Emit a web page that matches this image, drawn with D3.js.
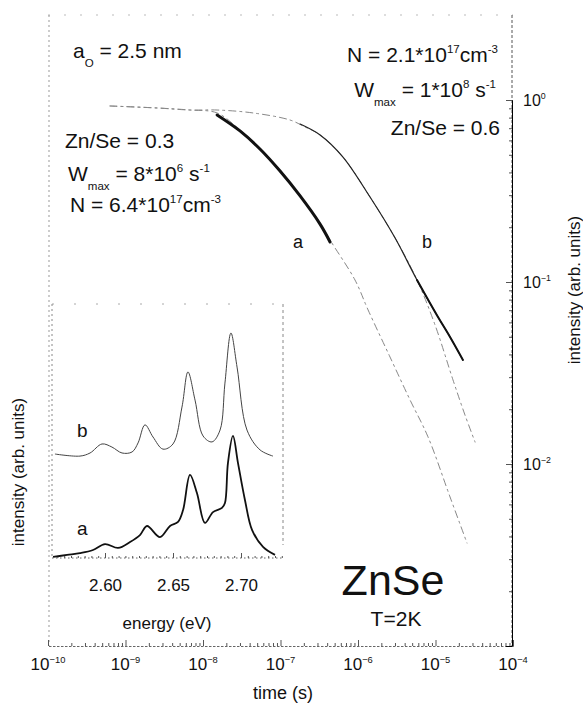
<!DOCTYPE html>
<html>
<head>
<meta charset="utf-8">
<script src="https://cdn.jsdelivr.net/npm/d3@7"></script>
<style>
  body { margin: 0; background: #fff; }
  svg { display: block; font-family: "Liberation Sans", Arial, sans-serif; }
</style>
</head>
<body>
<svg id="chart" width="583" height="711"></svg>
<script>
// ── Decay curves (time in s, normalised intensity) ─────────────────────────
const fitA_t  = [6.31e-10, 2.55e-9, 6.79e-9, 1.52e-8, 3.0e-8, 5.43e-8, 9.87e-8, 1.79e-7, 3.24e-7, 4.36e-7, 9.14e-7, 1.35e-6, 2.59e-6, 4.69e-6, 8.0e-6, 1.54e-5, 2.55e-5];
const fitA_I  = [0.927, 0.904, 0.881, 0.849, 0.684, 0.545, 0.412, 0.301, 0.211, 0.170, 0.1026, 0.0702, 0.0387, 0.0225, 0.0141, 0.00659, 0.00368];
const dataA_t = [1.52e-8, 3.0e-8, 5.43e-8, 9.87e-8, 1.79e-7, 3.24e-7, 4.36e-7];
const dataA_I = [0.827, 0.676, 0.538, 0.407, 0.297, 0.208, 0.166];

const fitB_t  = [6.31e-10, 2.55e-9, 6.79e-9, 1.52e-8, 4.42e-8, 1.33e-7, 2.07e-7, 3.24e-7, 6.4e-7, 1.43e-6, 3.0e-6, 5.77e-6, 9.86e-6, 1.68e-5, 2.40e-5, 3.24e-5];
const fitB_I  = [0.927, 0.904, 0.881, 0.881, 0.849, 0.776, 0.711, 0.643, 0.486, 0.293, 0.175, 0.1026, 0.0581, 0.0290, 0.0186, 0.0132];
const dataB_t = [1.79e-7, 3.24e-7, 6.4e-7, 1.43e-6, 3.0e-6, 5.77e-6, 1.04e-5, 1.54e-5, 2.26e-5];
const dataB_I = [0.738, 0.643, 0.486, 0.293, 0.175, 0.1026, 0.0659, 0.0499, 0.0373];

const timeExps      = [-10, -9, -8, -7, -6, -5, -4];
const intensityExps = [0, -1, -2];

// ── Inset spectra (energy in eV, arb. intensity) ───────────────────────────
const specB_E = [2.5632, 2.5816, 2.5890, 2.5978, 2.6051, 2.6125, 2.6199, 2.6243, 2.6294, 2.6353, 2.6426, 2.6500, 2.6566, 2.6610, 2.6662, 2.6721, 2.6787, 2.6846, 2.6882, 2.6926, 2.6971, 2.7044, 2.7140, 2.7235];
const specB_I = [0.403, 0.395, 0.407, 0.442, 0.430, 0.407, 0.411, 0.446, 0.516, 0.469, 0.422, 0.442, 0.585, 0.721, 0.612, 0.473, 0.450, 0.496, 0.678, 0.872, 0.740, 0.496, 0.419, 0.395];
const specA_E = [2.5618, 2.5721, 2.5816, 2.5912, 2.6000, 2.6096, 2.6184, 2.6257, 2.6309, 2.6404, 2.6478, 2.6537, 2.6574, 2.6625, 2.6676, 2.6735, 2.6794, 2.6860, 2.6882, 2.6904, 2.6941, 2.6978, 2.7029, 2.7081, 2.7162, 2.7250];
const specA_I = [0.004, 0.012, 0.019, 0.031, 0.054, 0.039, 0.062, 0.089, 0.124, 0.081, 0.124, 0.140, 0.186, 0.322, 0.252, 0.136, 0.178, 0.194, 0.213, 0.368, 0.473, 0.368, 0.225, 0.109, 0.043, 0.012];
const energyTicks = [2.60, 2.65, 2.70];

const svg = d3.select('#chart');
const INK = '#111';

// ── Scales ──────────────────────────────────────────────────────────────────
const x  = d3.scaleLog().domain([1e-10, 1e-4]).range([48, 513]);
const y  = d3.scaleLog().domain([1e-3, 1]).range([646, 100]);
const xE = d3.scaleLinear().domain([2.60, 2.70]).range([105, 241]);
const yE = d3.scaleLinear().domain([0, 1]).range([558, 300]);

// rich text with super/subscripts: parts = [[text, 'n'|'sup'|'sub'], ...]
function richText(g, px, py, parts, fs, anchor) {
  const t = g.append('text').attr('x', px).attr('y', py)
    .attr('font-size', fs).attr('fill', INK).attr('text-anchor', anchor || 'start');
  let shift = 0;
  parts.forEach(([s, k]) => {
    const target = k === 'sup' ? -fs * 0.42 : k === 'sub' ? fs * 0.45 : 0;
    const sp = t.append('tspan').attr('dy', target - shift).text(s);
    if (k !== 'n') sp.attr('font-size', fs * 0.55);
    shift = target;
  });
  return t;
}

// ── Frame lines (scanned look: dotted grey) ─────────────────────────────────
const frame = svg.append('g').attr('fill', 'none');
frame.append('line').attr('x1', 48).attr('x2', 513).attr('y1', 15).attr('y2', 15)
  .attr('stroke', '#bbb').attr('stroke-dasharray', '2,14');
frame.append('line').attr('x1', 49).attr('x2', 49).attr('y1', 15).attr('y2', 646)
  .attr('stroke', '#999').attr('stroke-dasharray', '2,3');

// ── Bottom time axis ────────────────────────────────────────────────────────
const minorT = [];
timeExps.slice(0, -1).forEach(e => { for (let k = 2; k <= 9; k++) minorT.push(k * Math.pow(10, e)); });
const majorT = timeExps.map(e => Math.pow(10, e));

const gx = svg.append('g').attr('transform', 'translate(0,646)');
gx.call(d3.axisBottom(x).tickValues(minorT).tickSize(-3).tickFormat(''));
gx.append('g').call(d3.axisBottom(x).tickValues(majorT).tickSize(-6).tickFormat(''));
gx.selectAll('.domain').attr('stroke', '#666').attr('stroke-dasharray', '1.5,2.5');
gx.selectAll('.tick line').attr('stroke', '#555');

timeExps.forEach(e => {
  richText(svg, x(Math.pow(10, e)), 670, [['10', 'n'], [String(e).replace('-', '\u2212'), 'sup']], 17, 'middle');
});
svg.append('text').attr('x', 283).attr('y', 699).attr('text-anchor', 'middle')
  .attr('font-size', 18).attr('fill', INK).text('time (s)');

// ── Right intensity axis ────────────────────────────────────────────────────
const minorI = [];
[-3, -2, -1].forEach(e => { for (let k = 2; k <= 9; k++) minorI.push(k * Math.pow(10, e)); });
const gy = svg.append('g').attr('transform', 'translate(512,0)');
gy.call(d3.axisRight(y).tickValues(minorI).tickSize(-3).tickFormat(''));
gy.append('g').call(d3.axisRight(y).tickValues(intensityExps.map(e => Math.pow(10, e))).tickSize(-6).tickFormat(''));
gy.select('.domain').attr('d', 'M0,15V646').attr('stroke', '#555').attr('stroke-dasharray', '3,2');
gy.selectAll('.tick line').attr('stroke', '#555');

intensityExps.forEach(e => {
  richText(svg, 523, y(Math.pow(10, e)) + 6, [['10', 'n'], [e === 0 ? '0' : String(e).replace('-', '\u2212'), 'sup']], 16);
});
svg.append('text').attr('transform', 'translate(580,290) rotate(-90)')
  .attr('text-anchor', 'middle').attr('font-size', 17).attr('fill', INK)
  .text('intensity (arb. units)');

// ── Decay curves ────────────────────────────────────────────────────────────
const line = d3.line().curve(d3.curveCatmullRom.alpha(0.5));
const pts = (ts, is) => ts.map((t, i) => [x(t), y(is[i])]);

const curves = svg.append('g').attr('fill', 'none').attr('stroke-linecap', 'round');
// fits: dashed near the top, lighter dotted look further down
[[fitA_t, fitA_I], [fitB_t, fitB_I]].forEach(([ts, is]) => {
  curves.append('path').attr('d', line(pts(ts, is)))
    .attr('stroke', '#888').attr('stroke-width', 1).attr('stroke-dasharray', '7,4,2,4');
});
curves.append('path').attr('d', line(pts(dataA_t, dataA_I)))
  .attr('stroke', INK).attr('stroke-width', 3);
curves.append('path').attr('d', line(pts(dataB_t, dataB_I)))
  .attr('stroke', '#222').attr('stroke-width', 1.2);
curves.append('path').attr('d', line(pts(dataB_t.slice(5), dataB_I.slice(5))))
  .attr('stroke', INK).attr('stroke-width', 2);

svg.append('text').attr('x', 293).attr('y', 248).attr('font-size', 18).attr('fill', INK).text('a');
svg.append('text').attr('x', 422).attr('y', 248).attr('font-size', 18).attr('fill', INK).text('b');

// ── Annotations ─────────────────────────────────────────────────────────────
const ann = svg.append('g');
richText(ann, 73, 58, [['a', 'n'], ['O', 'sub'], [' = 2.5 nm', 'n']], 21);
richText(ann, 65, 148, [['Zn/Se = 0.3', 'n']], 21);
richText(ann, 68, 181, [['W', 'n'], ['max', 'sub'], [' = 8*10', 'n'], ['6', 'sup'], [' s', 'n'], ['-1', 'sup']], 21);
richText(ann, 70, 212, [['N = 6.4*10', 'n'], ['17', 'sup'], ['cm', 'n'], ['-3', 'sup']], 21);

richText(ann, 498, 62, [['N = 2.1*10', 'n'], ['17', 'sup'], ['cm', 'n'], ['-3', 'sup']], 21, 'end');
richText(ann, 496, 97, [['W', 'n'], ['max', 'sub'], [' = 1*10', 'n'], ['8', 'sup'], [' s', 'n'], ['-1', 'sup']], 21, 'end');
richText(ann, 500, 135, [['Zn/Se = 0.6', 'n']], 21, 'end');

svg.append('text').attr('x', 393).attr('y', 595).attr('text-anchor', 'middle')
  .attr('font-size', 43).attr('fill', INK).text('ZnSe');
svg.append('text').attr('x', 396).attr('y', 626).attr('text-anchor', 'middle')
  .attr('font-size', 21).attr('fill', INK).text('T=2K');

// ── Inset spectra ───────────────────────────────────────────────────────────
const inset = svg.append('g');
inset.append('line').attr('x1', 52).attr('x2', 283).attr('y1', 304).attr('y2', 304)
  .attr('stroke', '#aaa').attr('stroke-dasharray', '2,20');
inset.append('line').attr('x1', 52).attr('x2', 52).attr('y1', 304).attr('y2', 558)
  .attr('stroke', '#888').attr('stroke-dasharray', '2,3');
inset.append('line').attr('x1', 283).attr('x2', 283).attr('y1', 304).attr('y2', 545)
  .attr('stroke', '#888').attr('stroke-dasharray', '3,3');

const minorE = d3.range(2.565, 2.73, 0.005).filter(v => !energyTicks.some(t => Math.abs(t - v) < 1e-6));
const gE = inset.append('g').attr('transform', 'translate(0,558)');
gE.call(d3.axisBottom(xE).tickValues(minorE).tickSize(-2).tickFormat(''));
gE.select('.domain').attr('d', 'M52,0H283');
gE.append('g').call(d3.axisBottom(xE).tickValues(energyTicks).tickSize(-5).tickPadding(21).tickFormat(d3.format('.2f')))
  .call(a => a.select('.domain').remove())
  .call(a => a.selectAll('text').attr('font-size', 17).attr('fill', INK)
    .attr('font-family', '"Liberation Sans", Arial, sans-serif'));
gE.selectAll('.domain').attr('stroke', '#666').attr('stroke-dasharray', '1.5,2.5');
gE.selectAll('.tick line').attr('stroke', '#555');

const eLine = d3.line().curve(d3.curveCatmullRom.alpha(0.5));
inset.append('path').attr('fill', 'none')
  .attr('d', eLine(specB_E.map((e, i) => [xE(e), yE(specB_I[i])])))
  .attr('stroke', '#444').attr('stroke-width', 1);
inset.append('path').attr('fill', 'none')
  .attr('d', eLine(specA_E.map((e, i) => [xE(e), yE(specA_I[i])])))
  .attr('stroke', INK).attr('stroke-width', 1.8);

inset.append('text').attr('x', 77).attr('y', 437).attr('font-size', 19).attr('fill', INK).text('b');
inset.append('text').attr('x', 77).attr('y', 535).attr('font-size', 19).attr('fill', INK).text('a');
inset.append('text').attr('x', 167).attr('y', 629).attr('text-anchor', 'middle')
  .attr('font-size', 17).attr('fill', INK).text('energy (eV)');
inset.append('text').attr('transform', 'translate(24,472) rotate(-90)')
  .attr('text-anchor', 'middle').attr('font-size', 17).attr('fill', INK)
  .text('intensity (arb. units)');
</script>
</body>
</html>
